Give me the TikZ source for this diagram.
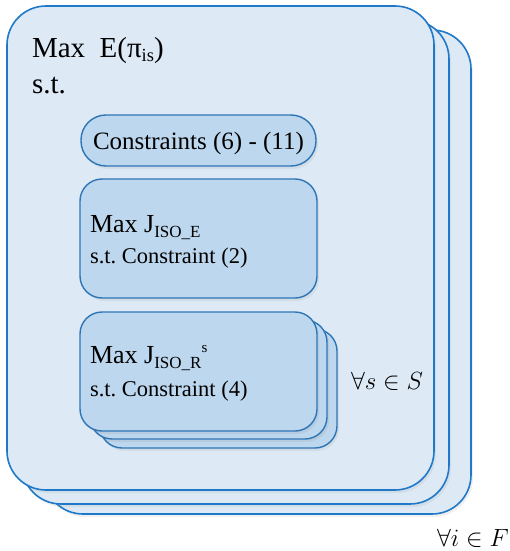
\documentclass[tikz,border=0pt]{standalone}
\usepackage{fontspec}
\setmainfont{Liberation Serif}
\frenchspacing
\usetikzlibrary{shadows}
\definecolor{outerfill}{HTML}{DDEAF6}
\definecolor{outerline}{HTML}{1F78C8}
\definecolor{innerfill}{HTML}{BDD7EE}
\definecolor{innerline}{HTML}{2E75B6}
\begin{document}
\begin{tikzpicture}[x=1pt,y=-1pt,
  outerbox/.style={draw=outerline, fill=outerfill, line width=1.6pt, rounded corners=39pt,
    anchor=north west, inner sep=0pt, outer sep=0pt,
    drop shadow={shadow xshift=2pt, shadow yshift=-3pt, opacity=0.12}},
  innerbox/.style={draw=innerline, fill=innerfill, line width=1.4pt, rounded corners=22pt,
    anchor=north west, inner sep=0pt, outer sep=0pt,
    drop shadow={shadow xshift=2pt, shadow yshift=-3pt, opacity=0.12}},
  txt/.style={anchor=base west, inner sep=0pt, outer sep=0pt}]
\useasboundingbox (0,0) rectangle (510,551);
% outer stacked boxes
\node[outerbox, minimum width=427pt, minimum height=484pt] (outer3) at (44,30) {};
\node[outerbox, minimum width=427pt, minimum height=484pt] (outer2) at (22,20) {};
\node[outerbox, minimum width=427pt, minimum height=484pt] (outer1) at (7,6) {};
% titles
\node[txt, font=\fontsize{29}{32}\selectfont] (title) at (32,57) {Max\ \ E(π\raisebox{-4pt}{\fontsize{18.5}{20}\selectfont is})};
\node[txt, font=\fontsize{29}{32}\selectfont] (st) at (32,93) {s.t.};
% constraints capsule
\node[innerbox, rounded corners=25pt, minimum width=235pt, minimum height=51pt] (cons) at (81,115) {};
\node[txt, font=\fontsize{25}{28}\selectfont] (constxt) at (93,149) {Constraints (6) - (11)};
% ISO_E box
\node[innerbox, minimum width=237pt, minimum height=119pt] (isoe) at (80,179) {};
\node[txt, font=\fontsize{26}{30}\selectfont] (isoetxt) at (90,232) {Max J\raisebox{-5pt}{\fontsize{17}{20}\selectfont ISO\_E}};
\node[txt, font=\fontsize{22.5}{26}\selectfont] (isoest) at (90,263) {s.t. Constraint (2)};
% ISO_R stacked boxes
\node[innerbox, minimum width=237pt, minimum height=119pt] (isor3) at (100,329) {};
\node[innerbox, minimum width=237pt, minimum height=119pt] (isor2) at (90,320) {};
\node[innerbox, minimum width=237pt, minimum height=119pt] (isor1) at (80,312) {};
\node[txt, font=\fontsize{26}{30}\selectfont] (isortxt) at (90,363) {Max J\raisebox{-5pt}{\fontsize{17}{20}\selectfont ISO\_R}\raisebox{11pt}{\fontsize{15}{18}\selectfont s}};
\node[txt, font=\fontsize{22.5}{26}\selectfont] (isorst) at (90,396) {s.t. Constraint (4)};
% quantifiers
\node[txt, font=\fontsize{24}{28}\selectfont] (forall s) at (351,389) {$\forall s \in S$};
\node[txt, font=\fontsize{24}{28}\selectfont] (forall i) at (437,546) {$\forall i \in F$};
\end{tikzpicture}
\end{document}
